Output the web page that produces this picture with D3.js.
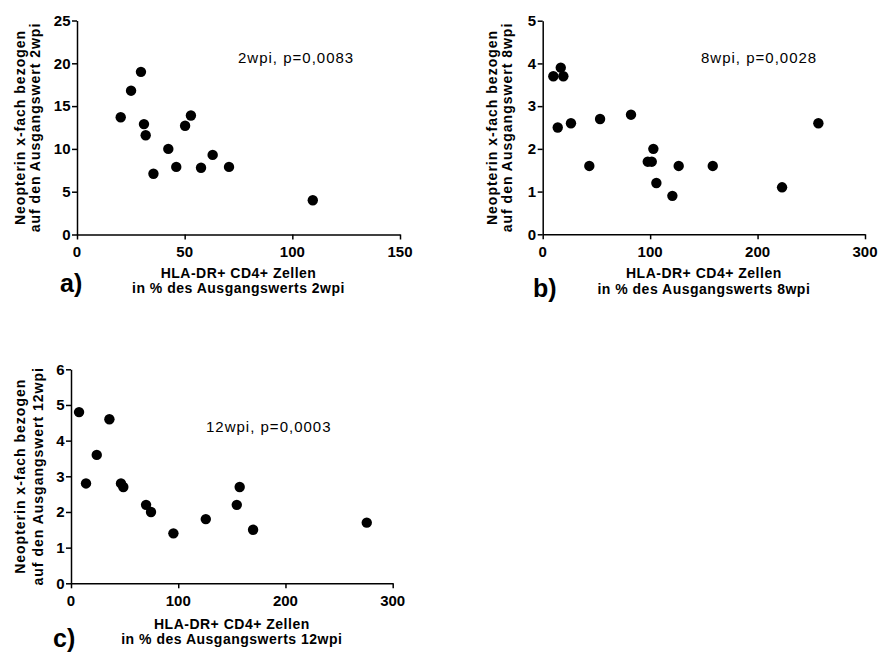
<!DOCTYPE html>
<html><head><meta charset="utf-8">
<script src="https://cdn.jsdelivr.net/npm/d3@7"></script>
<style>
body{margin:0;background:#fff}
text{font-family:Arial,"Liberation Sans",Helvetica,sans-serif;fill:#000}
.tl{font-size:15px;font-weight:bold}
</style>
</head><body>
<svg id="chart" width="878" height="653"></svg>
<script>
// Panel a) 2wpi
const aX = [20.3, 25.1, 29.7, 31.1, 31.9, 35.5, 42.4, 46.1, 50.2, 52.9, 57.6, 63.0, 70.6, 109.5];
const aY = [13.7, 16.8, 19.0, 12.9, 11.6, 7.1, 10.0, 7.9, 12.7, 13.9, 7.8, 9.3, 7.9, 4.0];
const aXTicks = [0, 50, 100, 150];
const aYTicks = [0, 5, 10, 15, 20, 25];

// Panel b) 8wpi
const bX = [9.9, 16.8, 19.2, 14.0, 26.3, 43.4, 53.4, 82.2, 97.8, 101.5, 103.0, 105.8, 120.7, 126.6, 158.3, 222.8, 256.6];
const bY = [3.7, 3.9, 3.7, 2.5, 2.6, 1.6, 2.7, 2.8, 1.7, 1.7, 2.0, 1.2, 0.9, 1.6, 1.6, 1.1, 2.6];
const bXTicks = [0, 100, 200, 300];
const bYTicks = [0, 1, 2, 3, 4, 5];

// Panel c) 12wpi
const cX = [7.5, 14.0, 24.0, 35.8, 46.6, 48.8, 70.0, 74.6, 95.5, 125.7, 154.6, 157.3, 169.8, 275.8];
const cY = [4.8, 2.8, 3.6, 4.6, 2.8, 2.7, 2.2, 2.0, 1.4, 1.8, 2.2, 2.7, 1.5, 1.7];
const cXTicks = [0, 100, 200, 300];
const cYTicks = [0, 1, 2, 3, 4, 5, 6];

const xTitle1 = "HLA-DR+ CD4+ Zellen";
const yTitle1 = "Neopterin x-fach bezogen";

const svg = d3.select("#chart");

function panel(cfg) {
  const x = d3.scaleLinear().domain([0, cfg.xMax]).range([cfg.x0, cfg.x1]);
  const y = d3.scaleLinear().domain([0, cfg.yMax]).range([cfg.y0, cfg.y1]);
  const g = svg.append("g");

  const xa = g.append("g").attr("transform", `translate(0,${cfg.y0})`)
    .call(d3.axisBottom(x).tickValues(cfg.xTicks).tickFormat("")
      .tickSize(5).tickSizeOuter(0));
  const ya = g.append("g").attr("transform", `translate(${cfg.x0},0)`)
    .call(d3.axisLeft(y).tickValues(cfg.yTicks).tickFormat("")
      .tickSize(5).tickSizeOuter(0));
  [xa, ya].forEach(a => {
    a.select(".domain").attr("stroke", "#000").attr("stroke-width", 1.5);
    a.selectAll(".tick line").attr("stroke", "#000").attr("stroke-width", 1.5);
    a.selectAll(".tick text").remove();
  });

  // tick labels (bold)
  g.append("g").selectAll("text").data(cfg.xTicks).join("text")
    .attr("class", "tl")
    .attr("x", d => x(d)).attr("y", cfg.y0 + 12).attr("dy", "0.71em")
    .attr("text-anchor", "middle").text(d3.format("d"));
  g.append("g").selectAll("text").data(cfg.yTicks).join("text")
    .attr("class", "tl")
    .attr("x", cfg.x0 - 6.5).attr("y", d => y(d)).attr("dy", "0.35em")
    .attr("text-anchor", "end").text(d3.format("d"));

  g.append("g").selectAll("circle").data(cfg.xs.map((d, i) => [d, cfg.ys[i]]))
    .join("circle")
    .attr("cx", d => x(d[0])).attr("cy", d => y(d[1]))
    .attr("r", 5.2).attr("fill", "#000");

  // annotation
  g.append("text").attr("x", cfg.annX).attr("y", cfg.annY)
    .style("font-size", "15px").style("letter-spacing", "1px").text(cfg.ann);

  // x title
  const cx = (cfg.x0 + cfg.x1) / 2;
  g.append("text").attr("x", cx).attr("y", cfg.xt1).attr("text-anchor", "middle")
    .style("font-size", "14px").style("font-weight", "bold").style("letter-spacing", "0.5px")
    .text(xTitle1);
  g.append("text").attr("x", cx).attr("y", cfg.xt2).attr("text-anchor", "middle")
    .style("font-size", "14px").style("font-weight", "bold").style("letter-spacing", "0.5px")
    .text(cfg.xTitle2);

  // y title
  const cy = (cfg.y0 + cfg.y1) / 2;
  g.append("text").attr("transform", `translate(${cfg.yt1},${cy}) rotate(-90)`)
    .attr("text-anchor", "middle").style("font-size", "14px").style("font-weight", "bold")
    .style("letter-spacing", "1px").text(yTitle1);
  g.append("text").attr("transform", `translate(${cfg.yt2},${cy}) rotate(-90)`)
    .attr("text-anchor", "middle").style("font-size", "14px").style("font-weight", "bold")
    .style("letter-spacing", "1px").text(cfg.yTitle2);

  // panel letter
  g.append("text").attr("x", cfg.lx).attr("y", cfg.ly)
    .style("font-size", "25px").style("font-weight", "bold").text(cfg.letter);
}

panel({xs: aX, ys: aY, xTicks: aXTicks, yTicks: aYTicks, xMax: 150, yMax: 25,
  x0: 77, x1: 400, y0: 234.5, y1: 20.5,
  ann: "2wpi, p=0,0083", annX: 238, annY: 63,
  xt1: 278, xt2: 292.5, xTitle2: "in % des Ausgangswerts 2wpi",
  yt1: 25, yt2: 39.5, yTitle2: "auf den Ausgangswert 2wpi",
  letter: "a)", lx: 60, ly: 292});

panel({xs: bX, ys: bY, xTicks: bXTicks, yTicks: bYTicks, xMax: 300, yMax: 5,
  x0: 542.7, x1: 865, y0: 234.3, y1: 20.7,
  ann: "8wpi, p=0,0028", annX: 701, annY: 63,
  xt1: 278.3, xt2: 294.3, xTitle2: "in % des Ausgangswerts 8wpi",
  yt1: 496.5, yt2: 512, yTitle2: "auf den Ausgangswert 8wpi",
  letter: "b)", lx: 533, ly: 297});

panel({xs: cX, ys: cY, xTicks: cXTicks, yTicks: cYTicks, xMax: 300, yMax: 6,
  x0: 71, x1: 392.7, y0: 583.3, y1: 369.3,
  ann: "12wpi, p=0,0003", annX: 206, annY: 432,
  xt1: 629.3, xt2: 644, xTitle2: "in % des Ausgangswerts 12wpi",
  yt1: 25, yt2: 43, yTitle2: "auf den Ausgangswert 12wpi",
  letter: "c)", lx: 53, ly: 647});
</script>
</body></html>
